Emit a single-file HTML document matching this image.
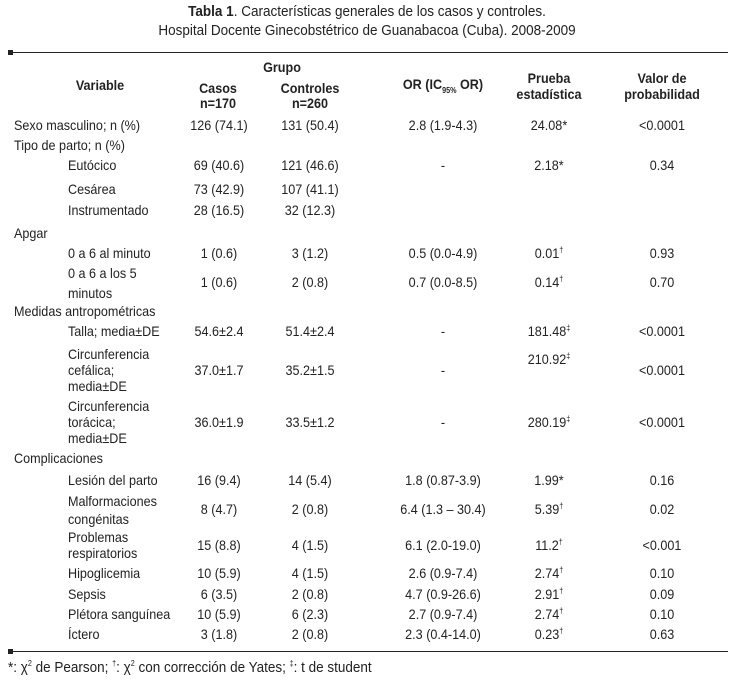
<!DOCTYPE html>
<html><head><meta charset="utf-8"><style>
body{margin:0;width:734px;height:693px;background:#fff;position:relative;font-family:"Liberation Sans",sans-serif;font-size:14px;color:#222;overflow:hidden}
.t{position:absolute;line-height:16px;white-space:nowrap;transform:scaleX(.9);transform-origin:left center}
.c{transform:translateX(-50%) scaleX(.9);transform-origin:center center}
.b{font-weight:bold}
.line{position:absolute;left:9px;width:719px;height:1px;background:#222}
.sq{position:absolute;left:8px;width:5px;height:5px;background:#222}
sup{font-size:8px;line-height:0}
sub{font-size:8px;line-height:0}
</style></head><body>
<div class="t c" style="left:367px;top:4px;font-size:15px"><b>Tabla 1</b>. Características generales de los casos y controles.</div>
<div class="t c" style="left:367px;top:23px;font-size:15px">Hospital Docente Ginecobstétrico de Guanabacoa (Cuba). 2008-2009</div>
<div class="sq" style="top:50px"></div><div class="line" style="top:52px"></div>
<div class="t c b" style="left:282px;top:59px">Grupo</div>
<div class="t c b" style="left:100px;top:77px">Variable</div>
<div class="t c b" style="left:218px;top:80px">Casos</div>
<div class="t c b" style="left:218px;top:95px">n=170</div>
<div class="t c b" style="left:310px;top:80px">Controles</div>
<div class="t c b" style="left:310px;top:95px">n=260</div>
<div class="t c b" style="left:443px;top:76px">OR (IC<sub>95%</sub> OR)</div>
<div class="t c b" style="left:549px;top:70px">Prueba</div>
<div class="t c b" style="left:549px;top:86px">estadística</div>
<div class="t c b" style="left:662px;top:70px">Valor de</div>
<div class="t c b" style="left:662px;top:86px">probabilidad</div>

<div class="t" style="left:14px;top:117px">Sexo masculino; n (%)</div>
<div class="t" style="left:14px;top:137px">Tipo de parto; n (%)</div>
<div class="t" style="left:68px;top:157px">Eutócico</div>
<div class="t" style="left:68px;top:181px">Cesárea</div>
<div class="t" style="left:68px;top:202px">Instrumentado</div>
<div class="t" style="left:14px;top:225px">Apgar</div>
<div class="t" style="left:68px;top:245px">0 a 6 al minuto</div>
<div class="t" style="left:68px;top:265px">0 a 6 a los 5</div>
<div class="t" style="left:68px;top:285px">minutos</div>
<div class="t" style="left:14px;top:303px">Medidas antropométricas</div>
<div class="t" style="left:68px;top:323px">Talla; media±DE</div>
<div class="t" style="left:68px;top:346px">Circunferencia</div>
<div class="t" style="left:68px;top:362px">cefálica;</div>
<div class="t" style="left:68px;top:378px">media±DE</div>
<div class="t" style="left:68px;top:398px">Circunferencia</div>
<div class="t" style="left:68px;top:414px">torácica;</div>
<div class="t" style="left:68px;top:430px">media±DE</div>
<div class="t" style="left:14px;top:450px">Complicaciones</div>
<div class="t" style="left:68px;top:472px">Lesión del parto</div>
<div class="t" style="left:68px;top:493px">Malformaciones</div>
<div class="t" style="left:68px;top:511px">congénitas</div>
<div class="t" style="left:68px;top:529px">Problemas</div>
<div class="t" style="left:68px;top:545px">respiratorios</div>
<div class="t" style="left:68px;top:565px">Hipoglicemia</div>
<div class="t" style="left:68px;top:586px">Sepsis</div>
<div class="t" style="left:68px;top:606px">Plétora sanguínea</div>
<div class="t" style="left:68px;top:626px">Íctero</div>

<div class="t c" style="left:219px;top:117px">126 (74.1)</div><div class="t c" style="left:310px;top:117px">131 (50.4)</div><div class="t c" style="left:443px;top:117px">2.8 (1.9-4.3)</div><div class="t c" style="left:549px;top:117px">24.08*</div><div class="t c" style="left:662px;top:117px">&lt;0.0001</div>
<div class="t c" style="left:219px;top:157px">69 (40.6)</div><div class="t c" style="left:310px;top:157px">121 (46.6)</div><div class="t c" style="left:443px;top:157px">-</div><div class="t c" style="left:549px;top:157px">2.18*</div><div class="t c" style="left:662px;top:157px">0.34</div>
<div class="t c" style="left:219px;top:181px">73 (42.9)</div><div class="t c" style="left:310px;top:181px">107 (41.1)</div>
<div class="t c" style="left:219px;top:202px">28 (16.5)</div><div class="t c" style="left:310px;top:202px">32 (12.3)</div>
<div class="t c" style="left:219px;top:245px">1 (0.6)</div><div class="t c" style="left:310px;top:245px">3 (1.2)</div><div class="t c" style="left:443px;top:245px">0.5 (0.0-4.9)</div><div class="t c" style="left:549px;top:245px">0.01<sup>†</sup></div><div class="t c" style="left:662px;top:245px">0.93</div>
<div class="t c" style="left:219px;top:274px">1 (0.6)</div><div class="t c" style="left:310px;top:274px">2 (0.8)</div><div class="t c" style="left:443px;top:274px">0.7 (0.0-8.5)</div><div class="t c" style="left:549px;top:274px">0.14<sup>†</sup></div><div class="t c" style="left:662px;top:274px">0.70</div>
<div class="t c" style="left:219px;top:323px">54.6±2.4</div><div class="t c" style="left:310px;top:323px">51.4±2.4</div><div class="t c" style="left:443px;top:323px">-</div><div class="t c" style="left:549px;top:323px">181.48<sup>‡</sup></div><div class="t c" style="left:662px;top:323px">&lt;0.0001</div>
<div class="t c" style="left:219px;top:362px">37.0±1.7</div><div class="t c" style="left:310px;top:362px">35.2±1.5</div><div class="t c" style="left:443px;top:362px">-</div><div class="t c" style="left:549px;top:351px">210.92<sup>‡</sup></div><div class="t c" style="left:662px;top:362px">&lt;0.0001</div>
<div class="t c" style="left:219px;top:414px">36.0±1.9</div><div class="t c" style="left:310px;top:414px">33.5±1.2</div><div class="t c" style="left:443px;top:414px">-</div><div class="t c" style="left:549px;top:414px">280.19<sup>‡</sup></div><div class="t c" style="left:662px;top:414px">&lt;0.0001</div>
<div class="t c" style="left:219px;top:472px">16 (9.4)</div><div class="t c" style="left:310px;top:472px">14 (5.4)</div><div class="t c" style="left:443px;top:472px">1.8 (0.87-3.9)</div><div class="t c" style="left:549px;top:472px">1.99*</div><div class="t c" style="left:662px;top:472px">0.16</div>
<div class="t c" style="left:219px;top:501px">8 (4.7)</div><div class="t c" style="left:310px;top:501px">2 (0.8)</div><div class="t c" style="left:443px;top:501px">6.4 (1.3 – 30.4)</div><div class="t c" style="left:549px;top:501px">5.39<sup>†</sup></div><div class="t c" style="left:662px;top:501px">0.02</div>
<div class="t c" style="left:219px;top:537px">15 (8.8)</div><div class="t c" style="left:310px;top:537px">4 (1.5)</div><div class="t c" style="left:443px;top:537px">6.1 (2.0-19.0)</div><div class="t c" style="left:549px;top:537px">11.2<sup>†</sup></div><div class="t c" style="left:662px;top:537px">&lt;0.001</div>
<div class="t c" style="left:219px;top:565px">10 (5.9)</div><div class="t c" style="left:310px;top:565px">4 (1.5)</div><div class="t c" style="left:443px;top:565px">2.6 (0.9-7.4)</div><div class="t c" style="left:549px;top:565px">2.74<sup>†</sup></div><div class="t c" style="left:662px;top:565px">0.10</div>
<div class="t c" style="left:219px;top:586px">6 (3.5)</div><div class="t c" style="left:310px;top:586px">2 (0.8)</div><div class="t c" style="left:443px;top:586px">4.7 (0.9-26.6)</div><div class="t c" style="left:549px;top:586px">2.91<sup>†</sup></div><div class="t c" style="left:662px;top:586px">0.09</div>
<div class="t c" style="left:219px;top:606px">10 (5.9)</div><div class="t c" style="left:310px;top:606px">6 (2.3)</div><div class="t c" style="left:443px;top:606px">2.7 (0.9-7.4)</div><div class="t c" style="left:549px;top:606px">2.74<sup>†</sup></div><div class="t c" style="left:662px;top:606px">0.10</div>
<div class="t c" style="left:219px;top:626px">3 (1.8)</div><div class="t c" style="left:310px;top:626px">2 (0.8)</div><div class="t c" style="left:443px;top:626px">2.3 (0.4-14.0)</div><div class="t c" style="left:549px;top:626px">0.23<sup>†</sup></div><div class="t c" style="left:662px;top:626px">0.63</div>

<div class="sq" style="top:649px"></div><div class="line" style="top:651px"></div>
<div class="t" style="left:8px;top:660px;font-size:15px">*: χ<sup>2</sup> de Pearson; <sup>†</sup>: χ<sup>2</sup> con corrección de Yates; <sup>‡</sup>: t de student</div>
</body></html>
